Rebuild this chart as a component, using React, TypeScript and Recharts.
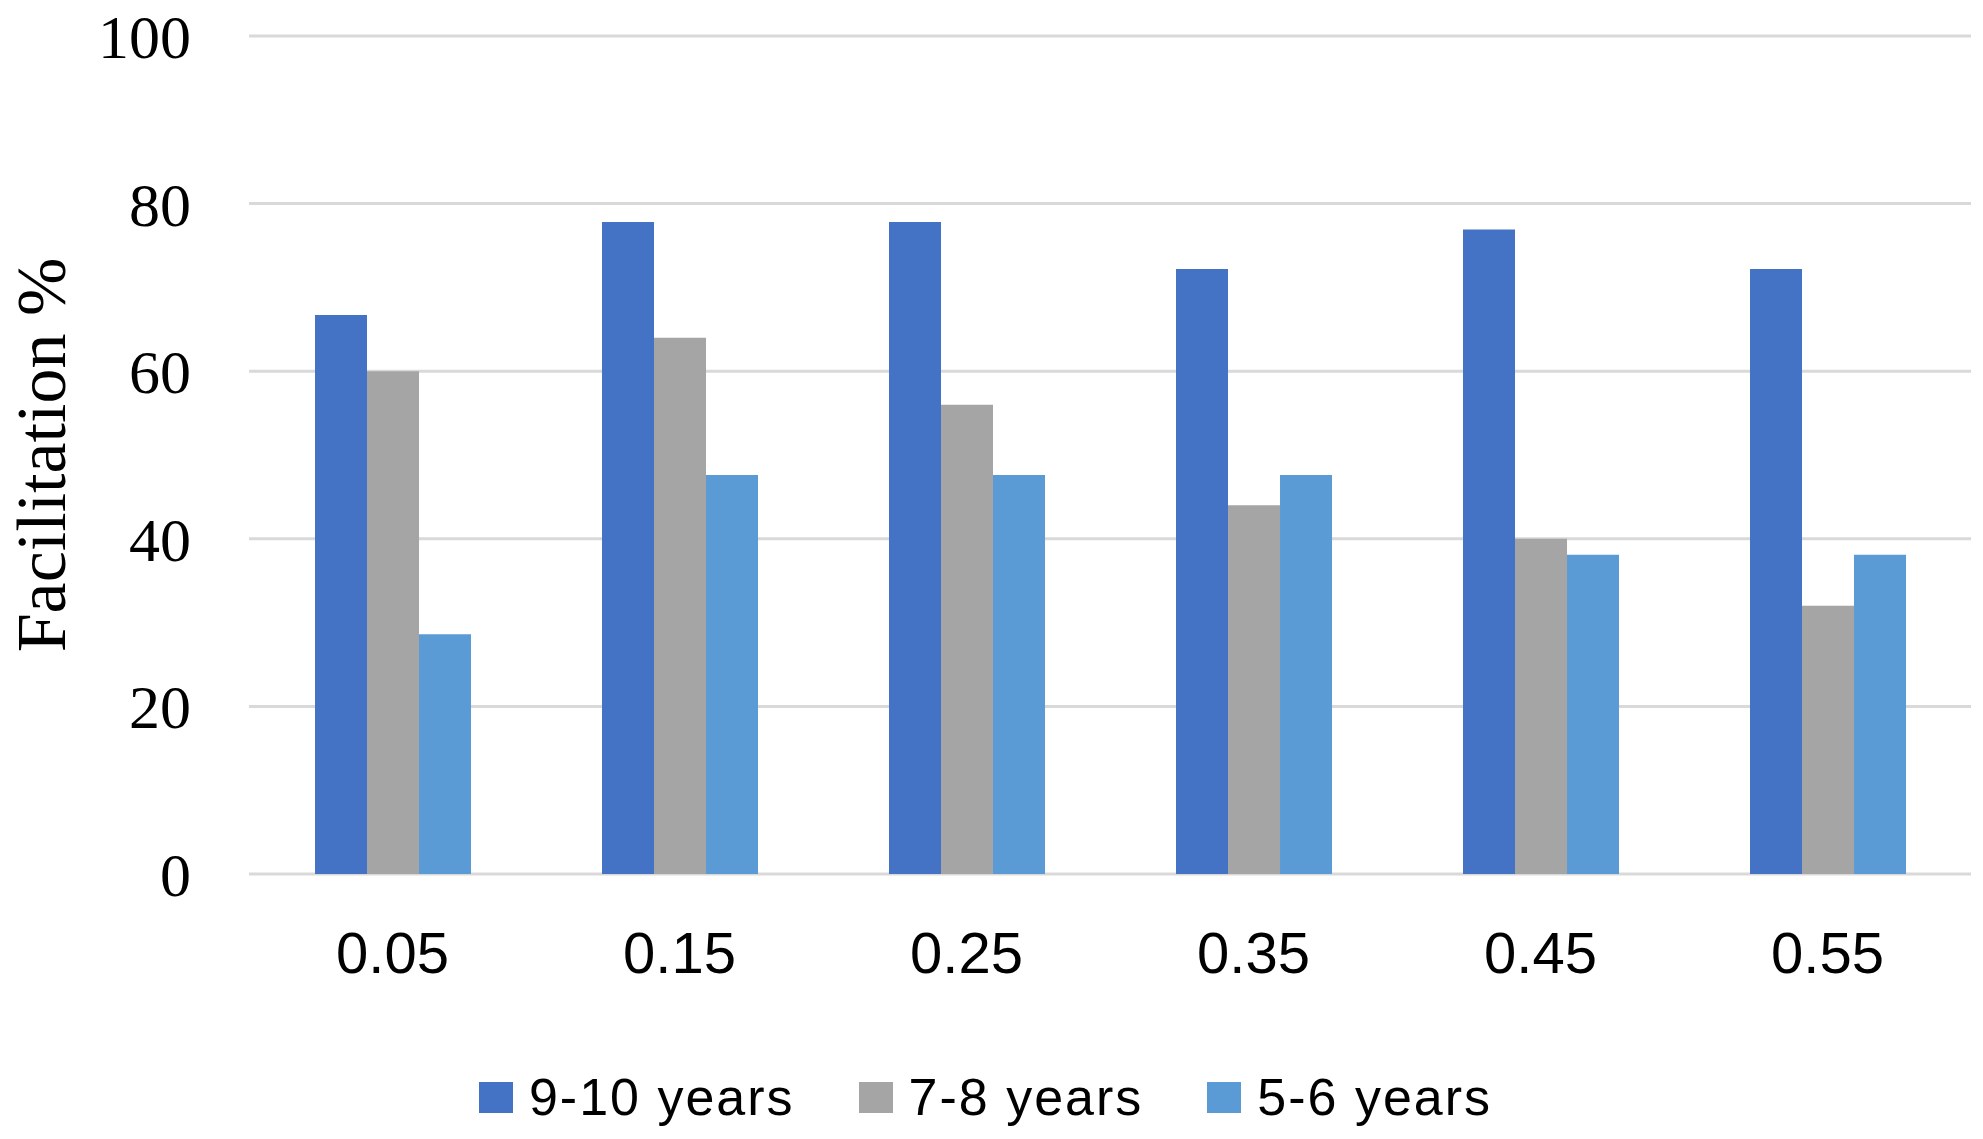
import { Bar, BarChart, CartesianGrid, Legend, XAxis, YAxis } from 'recharts';

const categories = ['0.05', '0.15', '0.25', '0.35', '0.45', '0.55'];
const olderValues = [66.7, 77.8, 77.8, 72.2, 76.9, 72.2];
const middleValues = [60, 64, 56, 44, 40, 32];
const youngerValues = [28.6, 47.6, 47.6, 47.6, 38.1, 38.1];
const yTicks = [0, 20, 40, 60, 80, 100];

const series = [
  { key: 'older', name: '9-10 years', color: '#4472C4' },
  { key: 'middle', name: '7-8 years', color: '#A5A5A5' },
  { key: 'younger', name: '5-6 years', color: '#5B9BD5' }
];

const data = categories.map((label, i) => ({
  label,
  older: olderValues[i],
  middle: middleValues[i],
  younger: youngerValues[i]
}));

function LegendRow() {
  return (
    <div
      style={{
        display: 'flex',
        justifyContent: 'center',
        alignItems: 'center',
        height: 50,
        fontFamily: '"Liberation Sans", Arial, sans-serif',
        fontSize: 52,
        letterSpacing: 2,
        color: '#000'
      }}
    >
      {series.map((s, i) => (
        <div
          key={s.key}
          style={{ display: 'flex', alignItems: 'center', marginRight: i < series.length - 1 ? 64 : 0 }}
        >
          <span style={{ width: 34, height: 31, background: s.color, marginRight: 16, display: 'inline-block' }} />
          <span>{s.name}</span>
        </div>
      ))}
    </div>
  );
}

export default function App() {
  return (
    <div style={{ position: 'absolute', left: 0, top: 0, width: 1983, height: 1139, background: '#fff' }}>
      <BarChart
        width={1983}
        height={1139}
        data={data}
        margin={{ top: 36, right: 12, left: 0, bottom: 17 }}
        barCategoryGap="23%"
        barGap={0}
      >
        <CartesianGrid vertical={false} stroke="#D9D9D9" strokeWidth={3} />
        <XAxis
          dataKey="label"
          height={198}
          axisLine={false}
          tickLine={false}
          tickSize={0}
          tickMargin={58}
          tick={{ fill: '#000', fontSize: 58, fontFamily: '"Liberation Sans", Arial, sans-serif' }}
        />
        <YAxis
          width={249}
          domain={[0, 100]}
          ticks={yTicks}
          axisLine={false}
          tickLine={false}
          tickSize={0}
          tickMargin={58}
          tick={{ fill: '#000', fontSize: 62, fontFamily: '"Liberation Serif", "Times New Roman", serif' }}
          label={{
            value: 'Facilitation %',
            angle: -90,
            position: 'insideLeft',
            offset: 40,
            style: {
              textAnchor: 'middle',
              fill: '#000',
              fontSize: 70,
              fontFamily: '"Liberation Serif", "Times New Roman", serif'
            }
          }}
        />
        <Legend verticalAlign="bottom" content={() => <LegendRow />} />
        {series.map((s) => (
          <Bar key={s.key} dataKey={s.key} name={s.name} fill={s.color} isAnimationActive={false} />
        ))}
      </BarChart>
    </div>
  );
}
